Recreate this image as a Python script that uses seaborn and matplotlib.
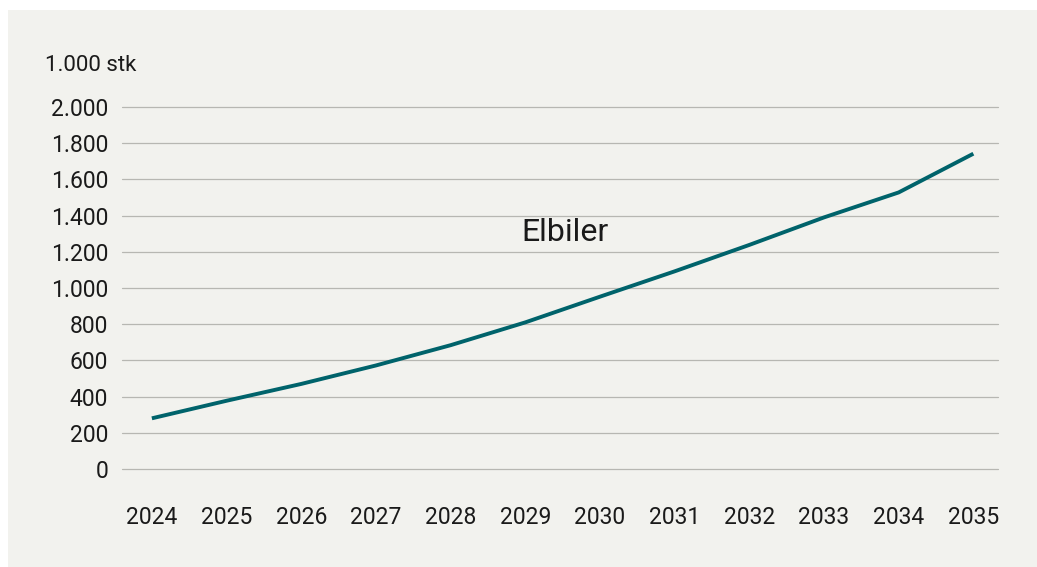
import numpy as np
import pandas as pd
import matplotlib
matplotlib.use("Agg")
import matplotlib.pyplot as plt
import seaborn as sns
from matplotlib.ticker import FuncFormatter
from matplotlib.patches import Rectangle

years = [2024, 2025, 2026, 2027, 2028, 2029, 2030, 2031, 2032, 2033, 2034, 2035]
elbiler = [280, 377, 470, 572, 684, 810, 952, 1092, 1238, 1390, 1528, 1742]
y_ticks = [0, 200, 400, 600, 800, 1000, 1200, 1400, 1600, 1800, 2000]
unit_label = "1.000 stk"
series_label = "Elbiler"

sns.set_theme(style="white")
plt.rcParams['font.family'] = ['Roboto', 'DejaVu Sans']

BG = "#f2f2ee"
LINE = "#00636b"
GRID = "#b7b7b2"
TXT = "#1a1a1a"

fig = plt.figure(figsize=(10.37, 5.67), dpi=100)
fig.patch.set_facecolor("white")

bg_ax = fig.add_axes([0, 0, 1, 1], zorder=-10)
bg_ax.set_axis_off()
bg_ax.add_patch(Rectangle((8/1037, 0), 1 - 8/1037, 1 - 10/567,
                          transform=bg_ax.transAxes, facecolor=BG,
                          edgecolor="none"))

ax = fig.add_axes([122/1037, (567-469)/567, 876/1037, 362/567], zorder=1)
ax.set_facecolor("none")

df = pd.DataFrame({"year": years, "value": elbiler})
sns.lineplot(data=df, x="year", y="value", ax=ax, color=LINE, linewidth=2.8,
             solid_capstyle="butt", zorder=3)

ax.set_xlim(years[0] - 0.40, years[-1] + 0.33)
ax.set_ylim(y_ticks[0], y_ticks[-1])
ax.set_xticks(years)
ax.set_xticklabels([str(y) for y in years])
ax.set_yticks(y_ticks)
ax.yaxis.set_major_formatter(FuncFormatter(lambda v, p: f"{int(v):,}".replace(",", ".")))

ax.grid(axis="y", color=GRID, linewidth=0.9, zorder=1)
ax.grid(axis="x", visible=False)
for s in ax.spines.values():
    s.set_visible(False)
for gl in ax.get_ygridlines():
    gl.set_clip_on(False)

ax.tick_params(axis="y", length=0, pad=10, labelsize=16.5, labelcolor=TXT)
ax.tick_params(axis="x", length=0, pad=27, labelsize=16.5, labelcolor=TXT)
ax.set_xlabel("")
ax.set_ylabel("")

fig.text(45/1037, 1 - 71/567, unit_label, fontsize=16, color=TXT,
         ha="left", va="baseline")
ax.text(2029.53, 1261, series_label, fontsize=23, color=TXT,
        ha="center", va="baseline", zorder=4)

fig.savefig("out.png", dpi=100, facecolor=fig.get_facecolor())
